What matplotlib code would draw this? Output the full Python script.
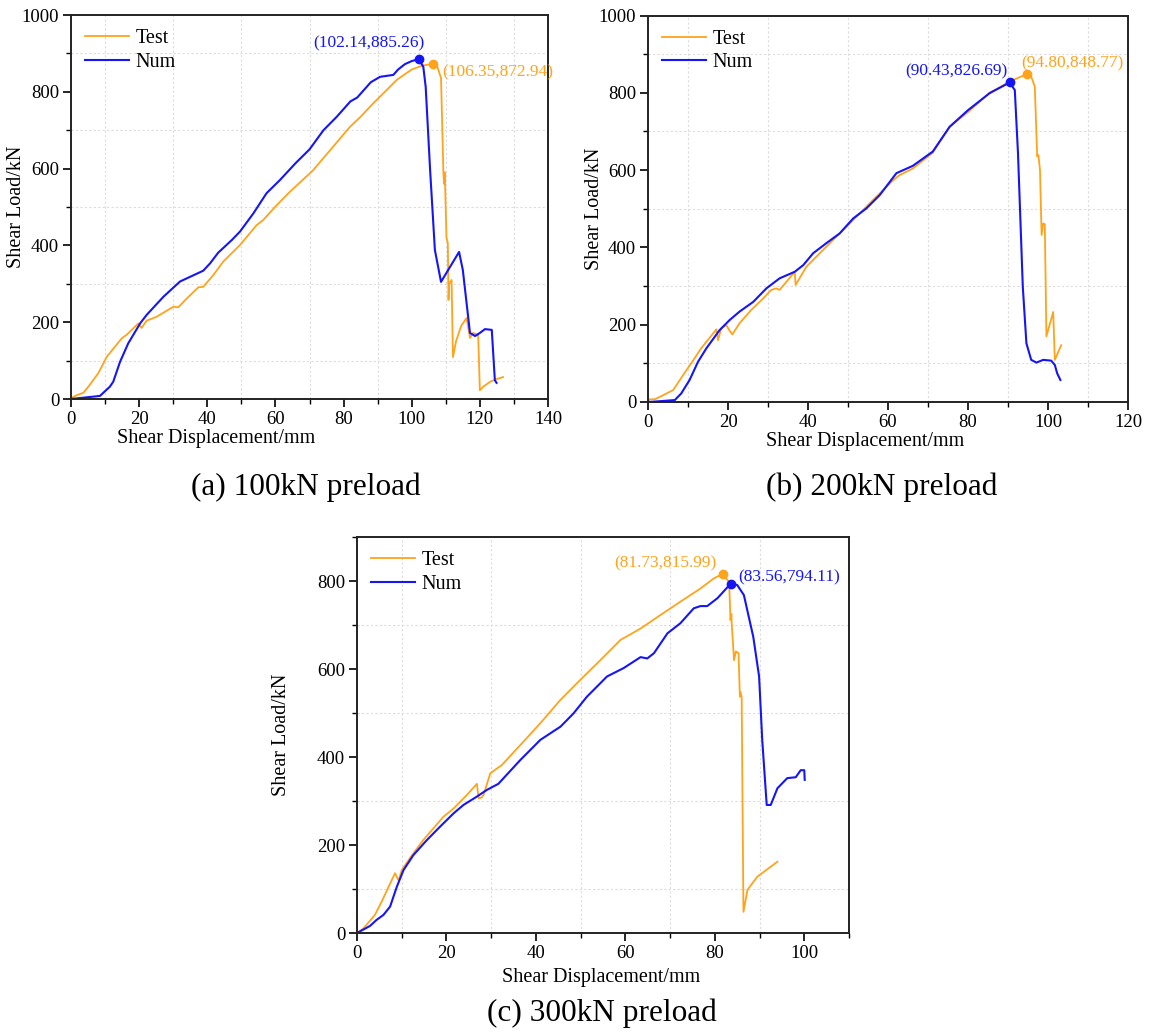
import matplotlib
matplotlib.use("Agg")
import matplotlib.pyplot as plt
from matplotlib.ticker import MultipleLocator

plt.rcParams['font.family'] = ['Liberation Serif', 'DejaVu Serif']

ORANGE = '#FFA31A'
BLUE = '#1515F5'

# ---------------- Panel (a): 100kN preload ----------------
a_test_x = [0, 0.2, 1.7, 3.6, 5.1, 8, 10.5, 14.9, 16.3, 19.8, 20.7, 22.2, 25.1, 30, 31.5, 34, 37.4, 38.8,
            41.8, 44.7, 49.6, 54.5, 56.4, 60.4, 64.3, 71.1, 75, 81.9, 85, 88.7, 92.7, 95.6, 100, 103,
            106.35, 107.5, 108.6, 109.3, 109.5, 109.7, 110.2, 110.6, 110.8, 111.0, 111.7, 112.1, 113, 114.5,
            116.1, 117.1, 118, 119.5, 120.0, 121, 123, 125, 126.8]
a_test_y = [0, 3, 10, 16, 32, 67, 110, 158, 167, 197, 185, 204, 214, 240, 239, 262, 291, 292,
            323, 358, 401, 453, 466, 505, 540, 596, 637, 709, 735, 770, 805, 831, 858, 868,
            872.94, 866, 836, 588, 560, 590, 420, 406, 258, 300, 310, 109, 150, 190,
            211, 159, 172, 167, 23, 32, 45, 52, 57]
a_num_x = [0, 8.5, 11.4, 12.4, 14.4, 16.8, 20.3, 22.2, 27.1, 32, 35.4, 38.8, 40.8, 43.2, 47.2, 49.6, 53.5,
           57.4, 61.3, 66, 70, 74.1, 78, 82, 84, 86, 88, 90.7, 94.6, 96, 98, 100, 102.14,
           103.4, 104.1, 105.4, 106.8, 108.6, 113.9, 115, 117.1, 118.6, 120, 121.5, 123.5, 124.4, 124.9]
a_num_y = [0, 8, 32, 45, 97, 145, 197, 219, 266, 306, 320, 334, 353, 381, 414, 436, 483,
           536, 570, 615, 650, 700, 735, 775, 785, 805, 825, 839, 844, 858, 872, 880, 885.26,
           865, 813, 596, 388, 305, 383, 336, 172, 164, 172, 182, 180, 49, 42]

# ---------------- Panel (b): 200kN preload ----------------
b_test_x = [0, 0.4, 1.7, 3.3, 6.3, 8.8, 10.8, 13.3, 17.1, 17.5, 18.3, 19.6, 20.3, 21.1, 22.9, 25.8, 28.8,
            30.8, 32.1, 32.9, 34.6, 36.7, 36.9, 39.6, 44.6, 47.9, 51.3, 56.3, 61.3, 62.9, 66.2, 71.2, 75.4,
            80, 85.4, 90.4, 94.80, 95.8, 96.7, 97.3, 97.6, 98.0, 98.4, 98.8, 99.2, 99.6, 101.3, 101.7, 103.3]
b_test_y = [0, 7, 7, 15, 31, 70, 100, 139, 188, 160, 190, 199, 186, 175, 204, 238, 268,
            290, 294, 290, 311, 337, 303, 350, 402, 436, 471, 523, 574, 587, 604, 645, 712,
            750, 800, 829, 848.77, 842, 816, 635, 639, 600, 432, 462, 460, 170, 233, 109, 147]
b_num_x = [0, 0.3, 6.7, 8.3, 10.4, 12.5, 14.6, 17.9, 20.4, 22.9, 26.3, 29.6, 32.9, 36.7, 38.8, 41.3, 44.6,
           47.9, 51.3, 54.6, 57.9, 62.1, 66.2, 71.2, 75.4, 80, 85.4, 90.43, 91.7, 92.5, 93.7, 94.6,
           95.8, 97.1, 98.8, 100.8, 101.7, 102.3, 103.1]
b_num_y = [0, 0, 5, 22, 57, 104, 139, 186, 212, 234, 259, 294, 320, 337, 354, 385, 411,
           436, 475, 501, 535, 592, 611, 648, 712, 755, 799, 826.69, 807, 643, 298, 152,
           109, 102, 109, 107, 96, 74, 57]

# ---------------- Panel (c): 300kN preload ----------------
c_test_x = [0, 1.4, 4, 5.5, 8.5, 9.3, 10, 12.3, 14.8, 17.1, 19.3, 21.6, 24.6, 26.8, 27.2, 27.9, 28.3,
            29.8, 32.4, 36.5, 41, 45.5, 49.9, 54.4, 58.9, 63.4, 67.9, 72.3, 76.8, 79.8, 81.73,
            83.2, 83.5, 83.7, 83.8, 84.3, 84.7, 85.3, 85.6, 85.7, 86.0, 86.4, 87.3, 89.5, 94]
c_test_y = [0, 10, 41, 71, 136, 119, 143, 177, 211, 238, 264, 283, 314, 339, 306, 308, 314,
            363, 382, 427, 477, 530, 575, 620, 666, 692, 723, 753, 783, 806, 815.99,
            798, 711, 725, 700, 620, 640, 636, 537, 548, 537, 48, 98, 128, 162]
c_num_x = [0, 2.9, 4.4, 5.9, 7.4, 8.9, 10.4, 12.6, 15.6, 18.6, 21.6, 23.8, 26.8, 29, 31.6, 36.5, 41,
           45.5, 48.4, 51.4, 55.9, 59.6, 63.4, 64.9, 66.4, 69.4, 72.3, 75.3, 76.8, 78.3, 80.6, 83.56,
           85, 86.5, 88.6, 89.9, 90.6, 91.6, 92.5, 94, 96.2, 98.1, 99.2, 100, 100.1]
c_num_y = [0, 16, 30, 41, 60, 105, 143, 177, 211, 242, 272, 291, 310, 325, 339, 393, 439,
           469, 499, 537, 583, 602, 627, 624, 636, 681, 704, 738, 743, 743, 761, 794.11,
           791, 768, 673, 583, 439, 291, 291, 329, 352, 354, 370, 370, 348]

# peak points: (Num peak, Test peak)
a_peaks = [(102.14, 885.26), (106.35, 872.94)]
b_peaks = [(90.43, 826.69), (94.80, 848.77)]
c_peaks = [(83.56, 794.11), (81.73, 815.99)]

W, H = 1155, 1033
fig = plt.figure(figsize=(W / 100, H / 100), dpi=100)


def frac(l, t, r, b):
    return [l / W, 1 - b / H, (r - l) / W, (b - t) / H]


def style(ax, xmax, ymax, xl, yl):
    ax.set_xlim(0, xmax)
    ax.set_ylim(0, ymax)
    ax.xaxis.set_major_locator(MultipleLocator(20))
    ax.xaxis.set_minor_locator(MultipleLocator(10))
    ax.yaxis.set_major_locator(MultipleLocator(200))
    ax.yaxis.set_minor_locator(MultipleLocator(100))
    ax.tick_params(which='major', direction='out', length=6, width=1.2, labelsize=13.5,
                   top=False, right=False, pad=2.5)
    ax.tick_params(which='minor', direction='out', length=3.5, width=1.0, top=False, right=False)
    for s in ax.spines.values():
        s.set_linewidth(1.4)
        s.set_color('#222222')
    ax.grid(which='minor', linestyle=(0, (2, 2)), color='#dcdcdc', linewidth=0.8)
    ax.grid(which='major', visible=False)
    ax.set_axisbelow(True)
    ax.set_xlabel('Shear Displacement/mm', fontsize=14.5)
    ax.set_ylabel('Shear Load/kN', fontsize=14.5)
    ax.xaxis.set_label_coords(*xl)
    ax.yaxis.set_label_coords(*yl)
    ax.legend(loc='upper left', frameon=False, fontsize=14.5, handlelength=2.2,
              borderaxespad=0.3, labelspacing=0.22, handletextpad=0.3)


def panel(ax, tx_, ty_, nx_, ny_, peaks):
    ax.plot(tx_, ty_, color=ORANGE, lw=1.3, label='Test')
    ax.plot(nx_, ny_, color=BLUE, lw=1.5, label='Num')
    (nx, ny), (tx, ty) = peaks
    ax.plot([nx], [ny], 'o', color=BLUE, ms=6, zorder=5)
    ax.plot([tx], [ty], 'o', color=ORANGE, ms=6, zorder=5)
    return (nx, ny), (tx, ty)


# (a)
ax1 = fig.add_axes(frac(71, 15, 548, 399))
(nx, ny), (tx, ty) = panel(ax1, a_test_x, a_test_y, a_num_x, a_num_y, a_peaks)
ax1.text(nx + 1.5, ny + 42, f'({nx:.2f},{ny:.2f})', color=BLUE, fontsize=12.5, ha='right', va='center')
ax1.text(tx + 2.5, ty - 22, f'({tx:.2f},{ty:.2f})', color=ORANGE, fontsize=12.5, ha='left', va='center')
style(ax1, 140, 1000, (0.304, -0.077), (-0.094, 0.5))

# (b)
ax2 = fig.add_axes(frac(648, 15.5, 1128, 402))
(nx, ny), (tx, ty) = panel(ax2, b_test_x, b_test_y, b_num_x, b_num_y, b_peaks)
ax2.text(nx - 0.5, ny + 28, f'({nx:.2f},{ny:.2f})', color=BLUE, fontsize=12.5, ha='right', va='center')
ax2.text(tx - 1.45, ty + 28, f'({tx:.2f},{ty:.2f})', color=ORANGE, fontsize=12.5, ha='left', va='center')
style(ax2, 120, 1000, (0.452, -0.077), (-0.092, 0.5))

# (c)
ax3 = fig.add_axes(frac(357, 537, 849, 933))
(nx, ny), (tx, ty) = panel(ax3, c_test_x, c_test_y, c_num_x, c_num_y, c_peaks)
ax3.text(nx + 1.6, ny + 15, f'({nx:.2f},{ny:.2f})', color=BLUE, fontsize=12.5, ha='left', va='center')
ax3.text(tx - 1.33, ty + 25, f'({tx:.2f},{ty:.2f})', color=ORANGE, fontsize=12.5, ha='right', va='center')
style(ax3, 110, 900, (0.496, -0.088), (-0.134, 0.5))

fig.text(306 / W, 1 - 487 / H, '(a) 100kN preload', fontsize=22.5, ha='center', va='center')
fig.text(882 / W, 1 - 487 / H, '(b) 200kN preload', fontsize=22.5, ha='center', va='center')
fig.text(602 / W, 1 - 1013 / H, '(c) 300kN preload', fontsize=22.5, ha='center', va='center')

fig.savefig('out.png', dpi=100)
